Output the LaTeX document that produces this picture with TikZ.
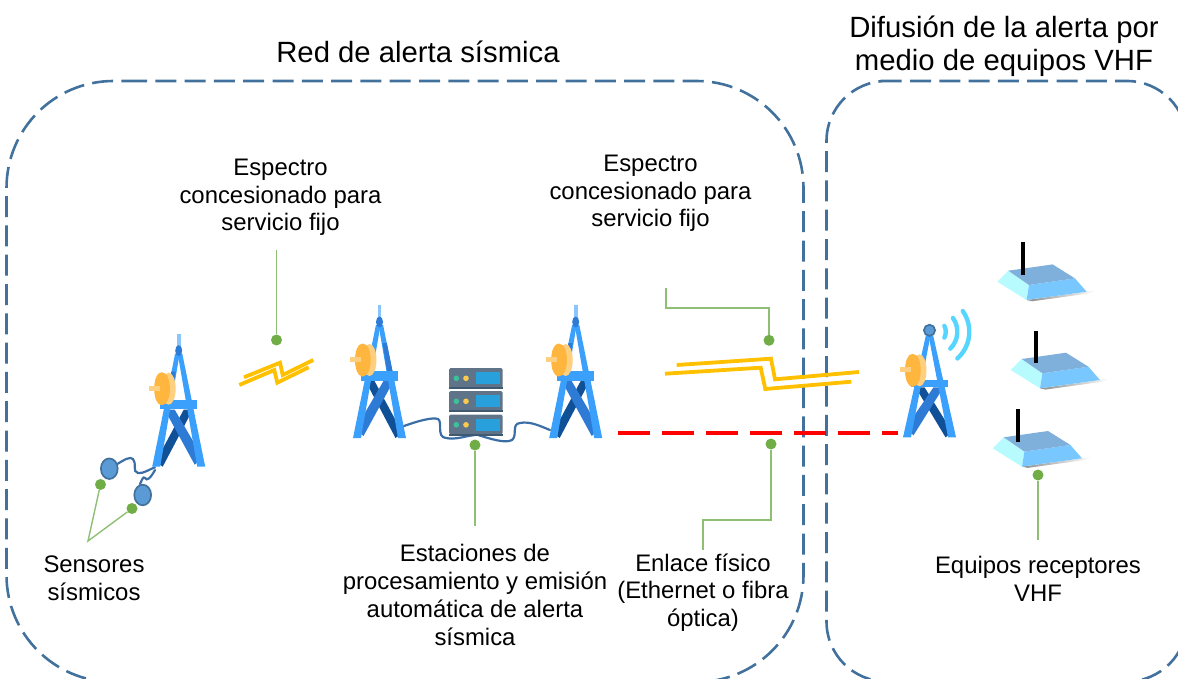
\documentclass[tikz,border=0pt]{standalone}
\usepackage{fontspec}
\setmainfont{Liberation Sans}
\definecolor{boxblue}{HTML}{41719C}
\definecolor{leader}{HTML}{8FBF74}
\definecolor{dotgreen}{HTML}{70AD47}
\definecolor{bolt}{HTML}{FFC000}
\definecolor{legblue}{HTML}{3AA0FC}
\definecolor{midblue}{HTML}{2E7BD6}
\definecolor{darkblue}{HTML}{0F5096}
\definecolor{dishor}{HTML}{FFB63F}
\definecolor{dishlt}{HTML}{FFCF80}
\definecolor{srv}{HTML}{5F7488}
\definecolor{srvdk}{HTML}{3F5A70}
\definecolor{srvgreen}{HTML}{3FBF9A}
\definecolor{srvyellow}{HTML}{FCC850}
\definecolor{srvblue}{HTML}{28A0DC}
\definecolor{sensorf}{HTML}{5B9BD5}
\definecolor{cable}{HTML}{3A6EA5}
\definecolor{wave}{HTML}{55D5FF}
\definecolor{rlight}{HTML}{B8FBFF}
\definecolor{rright}{HTML}{78C8FF}
\definecolor{rtop}{HTML}{7FB0DC}
\tikzset{
  x=1pt,y=-1pt,
  region/.style={draw=boxblue,line width=2.6pt,dash pattern=on 21pt off 8.3pt},
  leadline/.style={draw=leader,line width=1.4pt},
  leaddot/.style={circle,fill=dotgreen,inner sep=0pt,minimum size=11pt},
  boltline/.style={draw=bolt,line width=3.8pt,miter limit=10},
  wire/.style={draw=cable,line width=2.2pt,line cap=round},
  wavearc/.style={draw=wave,line width=4.4pt,line cap=round},
  lab/.style={align=center,font=\fontsize{23.9pt}{27.7pt}\selectfont,inner sep=0pt},
  head/.style={align=center,font=\fontsize{29.3pt}{33pt}\selectfont,inner sep=0pt},
  dishpart/.pic={
    \fill[dishlt] (-10,-78) ellipse [x radius=7,y radius=16];
    \fill[dishor] (-17,-94.5) .. controls (-6,-94.5) and (-6,-61.5) .. (-17,-61.5)
       .. controls (-27,-61.5) and (-27,-94.5) .. (-17,-94.5) -- cycle;
    \fill[dishlt] (-30,-81) rectangle (-18.5,-76);
  },
  tower/.pic={
    \fill[legblue,opacity=.6] (-1.8,-133) rectangle (1.8,-120);
    \fill[darkblue] (-14,-57) -- (-5,-57) -- (23,-5) -- (16,0) -- cycle;
    \fill[midblue] (4,-57) -- (14,-57) -- (-16,-2) -- (-24,-9) -- cycle;
    \fill[legblue] (-26.5,0) -- (-18.5,0) -- (1,-113) -- (-3.6,-113) -- cycle;
    \fill[legblue] (26.5,0) -- (18.5,0) -- (-1,-113) -- (3.6,-113) -- cycle;
    \fill[midblue] (3,-95) -- (7.3,-95) -- (13,-67) -- (7.5,-67) -- cycle;
    \fill[midblue] (0,-116) ellipse [x radius=3.5,y radius=5.5];
    \fill[legblue] (-18.5,-67) rectangle (18.5,-57.5);
    \pic {dishpart};
  },
  towerb/.pic={
    \fill[darkblue] (-14,-50) -- (-5,-50) -- (23,-5) -- (16,0) -- cycle;
    \fill[midblue] (4,-50) -- (14,-50) -- (-16,-2) -- (-24,-9) -- cycle;
    \fill[legblue] (-26.5,0) -- (-18.5,0) -- (1,-102) -- (-3.6,-102) -- cycle;
    \fill[legblue] (26.5,0) -- (18.5,0) -- (-1,-102) -- (3.6,-102) -- cycle;
    \fill[legblue] (-18.5,-57.5) rectangle (18.5,-50);
    \begin{scope}[shift={(0,11)}]\pic {dishpart};\end{scope}
    \filldraw[fill=sensorf,draw=boxblue,line width=1.7pt] (0,-107) circle [radius=5.6];
  },
  receiver/.pic={
    \shade[left color=black!55,right color=white,opacity=.8] (29.3,18.3) -- (89.3,10) -- (100,8.5) -- (90,12) -- (35,19.6) -- cycle;
    \fill[rlight] (0,0) -- (11,-11) -- (31.7,3.3) -- (29.3,18.3) -- cycle;
    \fill[rright] (31.7,3.3) -- (77.7,-3.3) -- (89.3,10) -- (29.3,18.3) -- cycle;
    \fill[rtop] (11,-11) -- (55.3,-17.3) -- (77.7,-3.3) -- (31.7,3.3) -- cycle;
    \fill[black] (23.7,-39.5) rectangle (27.7,-6.7);
  },
  serverunit/.pic={
    \fill[srv,rounded corners=1.5pt] (0,0) rectangle (53.7,20);
    \fill[srvdk] (0,19) rectangle (53.7,21);
    \fill[srvgreen] (7.3,10.3) circle [radius=2.8];
    \fill[srvyellow] (17,10.3) circle [radius=2.8];
    \fill[srvblue] (26.7,4) rectangle (51,16);
  },
}
\begin{document}
\begin{tikzpicture}
\useasboundingbox (0,0) rectangle (1178,679);
\clip (0,0) rectangle (1178,679);
% regions
\draw[region,rounded corners=107pt] (126,81) -- (803.5,81) -- (803.5,682) -- (6.5,682) -- (6.5,81) -- (126,81);
\draw[region,rounded corners=60pt] (880.7,81) -- (1187,81) -- (1187,681.5) -- (826.5,681.5) -- (826.5,81) -- (880.7,81);
% texts
\node[head] (titleA) at (418,52) {Red de alerta sísmica};
\node[head] (titleB) at (1004,46.5) {Difusión de la alerta por\\medio de equipos VHF};
\node[lab] (espA) at (280.5,197.5) {Espectro\\concesionado para\\servicio fijo};
\node[lab] (espB) at (650.5,193.5) {Espectro\\concesionado para\\servicio fijo};
\node[lab] (sens) at (94,578) {Sensores\\sísmicos};
\node[lab] (esta) at (475,595) {Estaciones de\\procesamiento y emisión\\automática de alerta\\sísmica};
\node[lab] (enla) at (703,592.5) {Enlace físico\\(Ethernet o fibra\\óptica)};
\node[lab] (equi) at (1038,578.5) {Equipos receptores\\VHF};
% red link
\coordinate (redA) at (618,432.7);
\coordinate (redB) at (898,432.7);
\draw[red,line width=3.6pt,dash pattern=on 32pt off 12pt] (redA) -- (redB);
% sensors and cables
\draw[wire] (117.3,464) .. controls (124,460) and (130,456) .. (133,459) .. controls (137,463) and (132,472) .. (138,473) .. controls (143,474) and (150,469) .. (155,467.3);
\draw[wire] (140,484) .. controls (142,480) and (143,476) .. (145,478) .. controls (147,481) and (150,479) .. (155,470);
\filldraw[fill=sensorf,draw=boxblue,line width=1.7pt] (109.3,468.7) ellipse [x radius=8.4,y radius=10.3];
\filldraw[fill=sensorf,draw=boxblue,line width=1.7pt] (142.7,495) ellipse [x radius=8.4,y radius=10.3];
% towers
\pic[xscale=-1] at (178.7,466.7) {tower};
\pic at (379.5,438) {tower};
\pic[xscale=-1] at (575.7,438) {tower};
\pic at (929.5,437.3) {towerb};
% waves
\begin{scope}[shift={(933.3,331.7)}]
\draw[wavearc] (28:12.5pt) arc [start angle=28,end angle=-28,radius=12.5pt];
\draw[wavearc] (35:24pt) arc [start angle=35,end angle=-45,radius=24pt];
\draw[wavearc] (35:36pt) arc [start angle=35,end angle=-48,radius=36pt];
\end{scope}
% cables to server
\draw[wire] (404,426) .. controls (418,421) and (432,417) .. (438,419) .. controls (443,422) and (436,437) .. (446,438) .. controls (456,440) and (465,436) .. (475,435);
\draw[wire] (478,435) .. controls (488,438) and (505,444) .. (512,440) .. controls (518,435) and (511,424) .. (520,423) .. controls (530,421) and (540,426) .. (550,430);
% server
\pic at (449,368) {serverunit};
\pic at (449,391) {serverunit};
\pic at (449,414.5) {serverunit};
% bolts
\draw[boltline] (244,377.3) -- (280,362.7) -- (282.7,375) -- (313.3,360);
\draw[boltline] (239.3,385) -- (274.3,370) -- (277.3,382.7) -- (308.7,367.3);
\draw[boltline] (676.7,365) -- (771,358.7) -- (775,379.3) -- (859,372);
\draw[boltline] (665,373.7) -- (760.7,367.7) -- (765.3,389) -- (851.3,381.7);
% receivers
\pic at (997.3,281.7) {receiver};
\pic at (1010.7,370) {receiver};
\pic at (992.7,448.3) {receiver};
% leaders
\node[leaddot] (dA) at (276.5,340) {};
\coordinate (lA) at (276.5,250);
\draw[leadline] (lA) -- (dA);
\node[leaddot] (dB) at (769,340.3) {};
\coordinate (lB) at (666,288);
\draw[leadline] (lB) |- (dB |- 0,308) -- (dB);
\node[leaddot] (dC) at (771,444) {};
\coordinate (lC) at (703,550);
\draw[leadline] (lC) |- (dC |- 0,520) -- (dC);
\node[leaddot] (dD) at (475,445) {};
\coordinate (lD) at (475,526);
\draw[leadline] (lD) -- (dD);
\node[leaddot] (dE) at (1038,475) {};
\coordinate (lE) at (1038,540);
\draw[leadline] (lE) -- (dE);
\node[leaddot] (dF) at (100.5,484.5) {};
\node[leaddot] (dG) at (132,508.5) {};
\coordinate (lF) at (88,541);
\draw[leadline] (dF) -- (lF) -- (dG);
\end{tikzpicture}
\end{document}
